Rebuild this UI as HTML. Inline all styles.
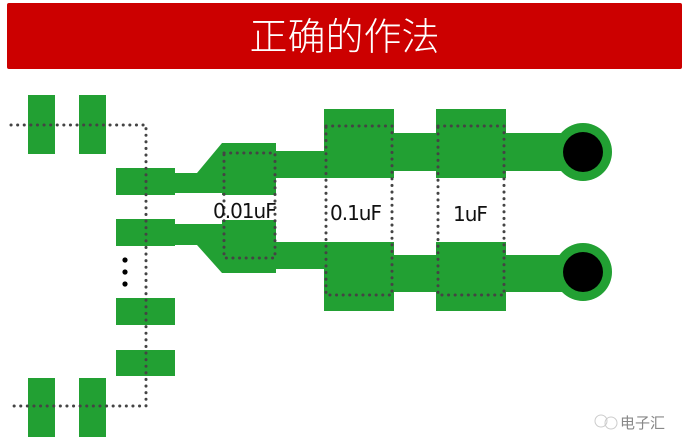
<!DOCTYPE html>
<html><head><meta charset="utf-8"><style>
html,body{margin:0;padding:0;background:#fff;width:689px;height:446px;overflow:hidden}
svg{display:block}
</style></head><body>
<svg width="689" height="446" viewBox="0 0 689 446" xmlns="http://www.w3.org/2000/svg">
<rect x="7" y="3" width="675" height="66" fill="#cc0000" rx="2"/>
<text x="344.5" y="50" text-anchor="middle" font-family="'Noto Sans CJK SC','WenQuanYi Zen Hei',sans-serif" font-size="38" font-weight="300" fill="#ffffff">正确的作法</text>
<g fill="#22a033">
<rect x="28" y="95" width="27" height="59"/>
<rect x="79" y="95" width="27" height="59"/>
<rect x="28" y="378" width="27" height="59"/>
<rect x="79" y="378" width="27" height="59"/>
<rect x="116" y="168" width="59" height="27"/>
<rect x="116" y="219" width="59" height="27"/>
<rect x="116" y="298" width="59" height="27"/>
<rect x="116" y="350" width="59" height="26"/>
<rect x="174" y="173" width="50" height="20"/>
<polygon points="197,173 222,143 224,143 224,193 197,193"/>
<rect x="222" y="143" width="54" height="52"/>
<rect x="174" y="224" width="50" height="21"/>
<polygon points="197,224 224,224 224,273 222,273 197,245"/>
<rect x="222" y="220" width="54" height="53"/>
<rect x="275" y="151" width="50" height="27"/>
<rect x="275" y="242" width="50" height="27"/>
<rect x="324" y="109" width="70" height="69"/>
<rect x="324" y="242" width="70" height="69"/>
<rect x="393" y="133" width="44" height="38"/>
<rect x="393" y="255" width="44" height="37"/>
<rect x="436" y="109" width="70" height="69"/>
<rect x="436" y="242" width="70" height="69"/>
<rect x="505" y="133" width="80" height="38"/>
<rect x="505" y="255" width="80" height="37"/>
<circle cx="583" cy="152" r="29"/>
<circle cx="583" cy="272" r="29"/>
</g>
<circle cx="583" cy="152" r="20" fill="#000"/>
<circle cx="583" cy="272" r="20" fill="#000"/>
<g fill="none" stroke="#444" stroke-width="3" stroke-dasharray="0.1,6.5" stroke-linecap="round">
<path d="M11 125 H146 V406 H10"/>
<rect x="224" y="153" width="51" height="105"/>
<rect x="326" y="126" width="66" height="169"/>
<rect x="438" y="126" width="66" height="169"/>
</g>
<g fill="#000">
<circle cx="125" cy="260" r="2.6"/><circle cx="125" cy="272" r="2.6"/><circle cx="125" cy="284" r="2.6"/>
</g>
<g font-family="'DejaVu Sans',sans-serif" font-size="20" fill="#111" letter-spacing="-1">
<text x="213" y="218">0.01uF</text>
<text x="330" y="220">0.1uF</text>
<text x="453" y="221">1uF</text>
</g>
<circle cx="601" cy="421" r="6" fill="none" stroke="#ccc" stroke-width="1"/>
<circle cx="611" cy="423" r="6" fill="none" stroke="#ccc" stroke-width="1"/>
<text x="620" y="428" font-family="'Noto Sans CJK SC',sans-serif" font-size="15" fill="#888">电子汇</text>
</svg>
</body></html>
